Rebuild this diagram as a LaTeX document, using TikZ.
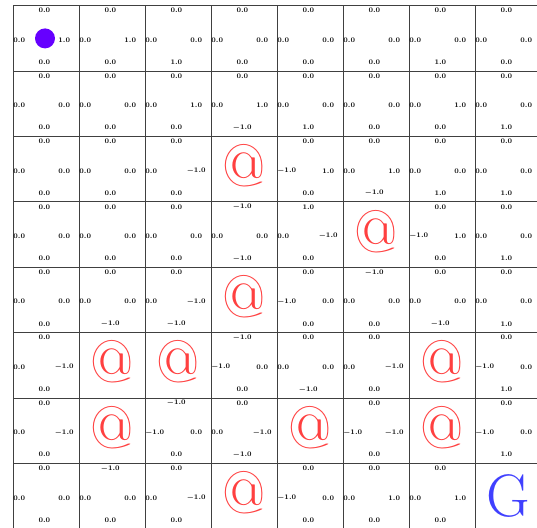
\documentclass[tikz,border=0pt]{standalone}
\usetikzlibrary{calc}

\definecolor{agentcol}{RGB}{102,0,255}

\begin{document}
\begin{tikzpicture}[
        x=1pt, y=-1pt,
        gridline/.style={draw=black!75, line width=0.9pt},
        val/.style={font=\fontsize{6.8}{7}\selectfont\boldmath, inner sep=0pt, text=black},
        wall/.style={font=\fontsize{60}{60}\selectfont, text=red!75, inner sep=0pt},
        goal/.style={font=\fontsize{60}{60}\selectfont, text=blue!75, inner sep=0pt},
        agent/.style={circle, fill=agentcol, minimum size=20pt, inner sep=0pt}
    ]

    % ---- page and clip ----
    \fill[white] (0,0) rectangle (537,527);
    \useasboundingbox (0,0) rectangle (537,527);
    \clip (0,0) rectangle (537,527);

    \begin{scope}[shift={(13,5.7)}, x=66pt, y=-65.4pt]

    % ---- grid ----
    \foreach \k in {0,...,8} {
        \draw[gridline] (\k,0) -- (\k,8.2);
        \draw[gridline] (0,\k) -- (8.2,\k);
    }

    % ---- values: row/col/north/west/east/south ----
    \foreach \row/\col/\vn/\vw/\ve/\vs in {
        1/1/0.0/0.0/1.0/0.0, 1/2/0.0/0.0/1.0/0.0, 1/3/0.0/0.0/0.0/1.0, 1/4/0.0/0.0/0.0/0.0,
        1/5/0.0/0.0/0.0/0.0, 1/6/0.0/0.0/0.0/0.0, 1/7/0.0/0.0/0.0/1.0, 1/8/0.0/0.0/0.0/0.0,
        2/1/0.0/0.0/0.0/0.0, 2/2/0.0/0.0/0.0/0.0, 2/3/0.0/0.0/1.0/0.0, 2/4/0.0/0.0/1.0/-1.0,
        2/5/0.0/0.0/0.0/1.0, 2/6/0.0/0.0/0.0/0.0, 2/7/0.0/0.0/1.0/0.0, 2/8/0.0/0.0/0.0/1.0,
        3/1/0.0/0.0/0.0/0.0, 3/2/0.0/0.0/0.0/0.0, 3/3/0.0/0.0/-1.0/0.0,
        3/5/0.0/-1.0/1.0/0.0, 3/6/0.0/0.0/1.0/-1.0, 3/7/0.0/0.0/0.0/1.0, 3/8/0.0/0.0/0.0/1.0,
        4/1/0.0/0.0/0.0/0.0, 4/2/0.0/0.0/0.0/0.0, 4/3/0.0/0.0/0.0/0.0, 4/4/-1.0/0.0/0.0/-1.0,
        4/5/1.0/0.0/-1.0/0.0, 4/7/0.0/-1.0/1.0/0.0, 4/8/0.0/0.0/0.0/1.0,
        5/1/0.0/0.0/0.0/0.0, 5/2/0.0/0.0/0.0/-1.0, 5/3/0.0/0.0/-1.0/-1.0,
        5/5/0.0/-1.0/0.0/0.0, 5/6/-1.0/0.0/0.0/0.0, 5/7/0.0/0.0/0.0/-1.0, 5/8/0.0/0.0/0.0/1.0,
        6/1/0.0/0.0/-1.0/0.0, 6/4/-1.0/-1.0/0.0/0.0, 6/5/0.0/0.0/0.0/-1.0,
        6/6/0.0/0.0/-1.0/0.0, 6/8/0.0/-1.0/0.0/1.0,
        7/1/0.0/0.0/-1.0/0.0, 7/3/-1.0/-1.0/0.0/0.0, 7/4/0.0/0.0/-1.0/-1.0,
        7/6/0.0/-1.0/-1.0/0.0, 7/8/0.0/-1.0/0.0/1.0,
        8/1/0.0/0.0/0.0/0.0, 8/2/-1.0/0.0/0.0/0.0, 8/3/0.0/0.0/-1.0/0.0,
        8/5/0.0/-1.0/0.0/0.0, 8/6/0.0/0.0/1.0/0.0, 8/7/0.0/0.0/1.0/0.0} {
        \node[val] (n-\row-\col) at (\col-0.525, \row-0.924) {$\vn$};
        \node[val, anchor=west] (w-\row-\col) at (\col-0.997, \row-0.476) {$\vw$};
        \node[val] (e-\row-\col) at (\col-0.223, \row-0.476) {$\ve$};
        \node[val] (s-\row-\col) at (\col-0.525, \row-0.134) {$\vs$};
    }

    % ---- walls ----
    \foreach \row/\col in {3/4, 4/6, 5/4, 6/2, 6/3, 6/7, 7/2, 7/5, 7/7, 8/4}
        \node[wall] (wall-\row-\col) at (\col-0.5, \row-0.55) {@};

    % ---- goal and agent ----
    \node[goal] (goal) at (7.5, 7.49) {G};
    \node[agent] (agent) at (0.485, 0.5) {};

    \end{scope}

\end{tikzpicture}
\end{document}
